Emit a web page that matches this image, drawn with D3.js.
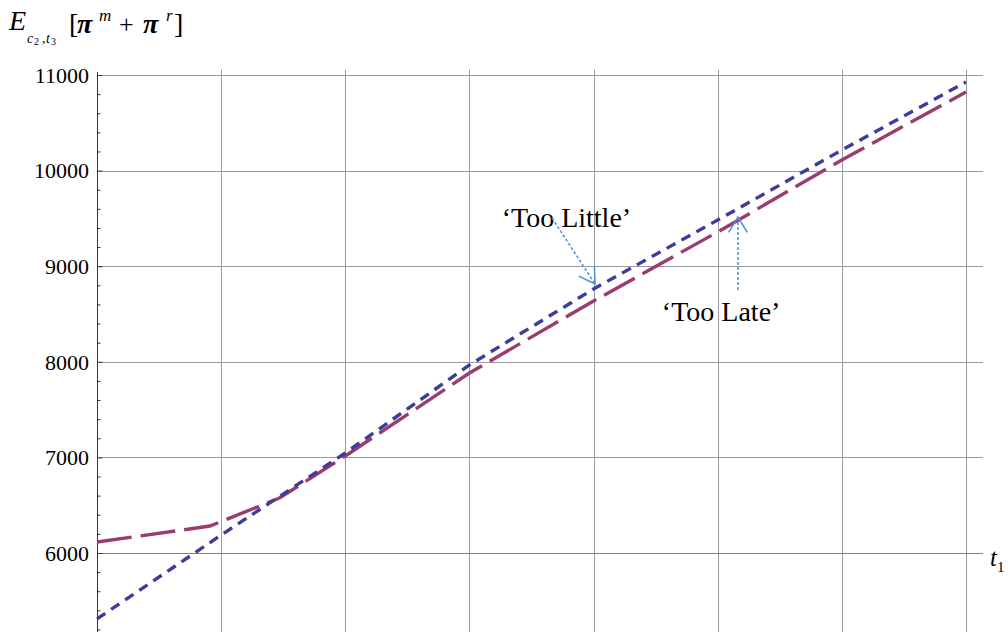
<!DOCTYPE html>
<html>
<head>
<meta charset="utf-8">
<script src="https://cdn.jsdelivr.net/npm/d3@7"></script>
<style>
  html, body { margin: 0; padding: 0; background: #fff; }
  svg { display: block; }
  text { font-family: "Liberation Serif", "DejaVu Serif", serif; fill: #000; }
</style>
</head>
<body>
<svg id="chart" width="1008" height="632"></svg>
<script>
// ---- data ----
const gridT = [1, 2, 3, 4, 5, 6, 7];
const yMajorTicks = [6000, 7000, 8000, 9000, 10000, 11000];
const yTickLabels = ["6000", "7000", "8000", "9000", "10000", "11000"];
const tooLittleT = [0, 1, 2, 3, 4, 5, 6, 7];
const tooLittleV = [5310, 6188, 7046, 7967, 8762, 9483, 10215, 10927];
const tooLateT = [0, 0.91, 1.47, 2, 3, 4, 5, 6, 7];
const tooLateV = [6115, 6282, 6575, 7015, 7883, 8636, 9358, 10111, 10822];
const annotations = [
  { text: "\u2018Too Little\u2019", t: 3.26, v: 9410, from: [3.665, 9504], to: [4.012, 8814] },
  { text: "\u2018Too Late\u2019", t: 4.55, v: 8425, from: [5.163, 8751], to: [5.163, 9515] }
];

// ---- scales ----
const x = d3.scaleLinear().domain([0, 7]).range([97, 966]);
const y = d3.scaleLinear().domain([6000, 11000]).range([553, 75]);
const xMax = x.invert(983), yTop = y.invert(70), yBot = y.invert(632);

const svg = d3.select("#chart");

// grid
const g = svg.append("g");
g.selectAll("line.v").data(gridT).enter().append("line")
  .attr("x1", d => Math.round(x(d)) + 0.5).attr("x2", d => Math.round(x(d)) + 0.5)
  .attr("y1", y(yTop)).attr("y2", y(yBot))
  .attr("stroke", "#9a9a9a").attr("stroke-width", 1);
g.selectAll("line.h").data(yMajorTicks).enter().append("line")
  .attr("x1", x(0)).attr("x2", x(xMax))
  .attr("y1", d => Math.round(y(d)) + 0.5).attr("y2", d => Math.round(y(d)) + 0.5)
  .attr("stroke", d => d === 6000 ? "#808080" : "#9a9a9a").attr("stroke-width", 1);

// y axis
const yAxis = d3.axisRight(y)
  .tickValues(d3.range(5200, 11001, 200))
  .tickSize(3).tickFormat("");
const ya = svg.append("g").attr("transform", `translate(${Math.round(x(0)) + 0.5},0)`).call(yAxis);
ya.select(".domain").remove();
ya.selectAll(".tick line").attr("stroke", "#333")
  .attr("x2", d => d % 1000 === 0 ? 5 : 3);
svg.append("line")
  .attr("x1", Math.round(x(0)) + 0.5).attr("x2", Math.round(x(0)) + 0.5)
  .attr("y1", y(yTop) + 2).attr("y2", y(yBot))
  .attr("stroke", "#333").attr("stroke-width", 1);
svg.selectAll("text.ytl").data(yMajorTicks).enter().append("text")
  .attr("x", x(0) - 8).attr("y", d => y(d))
  .attr("dy", "0.35em").attr("text-anchor", "end")
  .attr("font-size", 22)
  .text((d, i) => yTickLabels[i]);

// lines
const lineGen = d3.line().x(d => x(d[0])).y(d => y(d[1]));
svg.append("path")
  .datum(tooLateT.map((t, i) => [t, tooLateV[i]]))
  .attr("d", lineGen).attr("fill", "none")
  .attr("stroke", "#993d71").attr("stroke-width", 3.4)
  .attr("stroke-dasharray", "35,9");
svg.append("path")
  .datum(tooLittleT.map((t, i) => [t, tooLittleV[i]]))
  .attr("d", lineGen).attr("fill", "none")
  .attr("stroke", "#3d3d99").attr("stroke-width", 3.4)
  .attr("stroke-dasharray", "10,7");

// annotations
const arrowColor = "#4a8fd8";
annotations.forEach(a => {
  svg.append("text").attr("x", x(a.t)).attr("y", y(a.v))
    .attr("font-size", 28).text(a.text);
  const x1 = x(a.from[0]), y1 = y(a.from[1]), x2 = x(a.to[0]), y2 = y(a.to[1]);
  svg.append("line").attr("x1", x1).attr("y1", y1).attr("x2", x2).attr("y2", y2)
    .attr("stroke", arrowColor).attr("stroke-width", 1.5).attr("stroke-dasharray", "3,2");
  const ang = Math.atan2(y1 - y2, x1 - x2), L = 18, sp = 31 * Math.PI / 180;
  const head = [[x2 + L * Math.cos(ang + sp), y2 + L * Math.sin(ang + sp)], [x2, y2],
                [x2 + L * Math.cos(ang - sp), y2 + L * Math.sin(ang - sp)]];
  svg.append("path").attr("d", d3.line()(head)).attr("fill", "none")
    .attr("stroke", arrowColor).attr("stroke-width", 1.5);
});

// axis titles
function txt(xp, yp, s, size, opts) {
  const o = opts || {};
  return svg.append("text").attr("x", xp).attr("y", yp).attr("font-size", size)
    .attr("font-style", o.italic ? "italic" : "normal")
    .attr("font-weight", o.bold ? "bold" : "normal").text(s);
}
txt(9, 30, "E", 28, { italic: true });
txt(27, 43, "c", 14, { italic: true });
txt(34, 45, "2", 10);
txt(42, 43, ",", 14);
txt(46, 43, "t", 14, { italic: true });
txt(51, 45, "3", 10);
txt(69, 33, "[", 28);
txt(77, 33, "\u03c0", 28, { italic: true, bold: true });
txt(99, 21, "m", 17, { italic: true });
txt(119, 33, "+", 26);
txt(143, 33, "\u03c0", 28, { italic: true, bold: true });
txt(166, 21, "r", 17, { italic: true });
txt(174, 33, "]", 28);

const xt = svg.append("text").attr("x", 990).attr("y", 566);
xt.append("tspan").attr("font-size", 25).attr("font-style", "italic").text("t");
xt.append("tspan").attr("font-size", 15).attr("dy", 6).text("1");
</script>
</body>
</html>
